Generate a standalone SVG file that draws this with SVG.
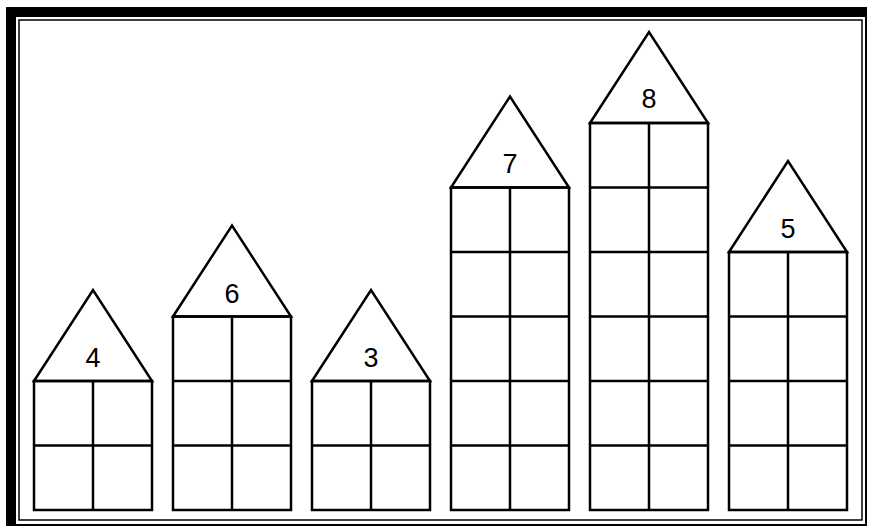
<svg xmlns="http://www.w3.org/2000/svg" width="869" height="529" viewBox="0 0 869 529">
<style>
.ln{fill:none;stroke:#000;stroke-width:2.5;stroke-linejoin:miter}
.rf{fill:#fff;stroke:#000;stroke-width:2.5;stroke-linejoin:miter}
.lbl{font-family:"Liberation Sans",Arial,sans-serif;font-size:27px;fill:#000;text-anchor:middle}
</style>
<rect width="869" height="529" fill="#fff"/>
<g id="frame">
<rect x="7" y="8" width="859" height="517" fill="none" stroke="#000" stroke-width="2"/>
<rect x="6" y="7" width="861" height="10" fill="#000"/>
<rect x="6" y="7" width="10" height="519" fill="#000"/>
<rect x="19" y="20" width="843" height="500" fill="none" stroke="#000" stroke-width="1.5"/>
</g>
<g id="house4">
<path class="rf" d="M34 381 L93 290 L152 381 Z"/>
<rect class="ln" x="34" y="381" width="118" height="129"/>
<path class="ln" d="M93 381 V510 M34 445.5 H152"/>
<text class="lbl" x="93" y="367">4</text>
</g>
<g id="house6">
<path class="rf" d="M173 316.5 L232 225.5 L291 316.5 Z"/>
<rect class="ln" x="173" y="316.5" width="118" height="193.5"/>
<path class="ln" d="M232 316.5 V510 M173 381 H291 M173 445.5 H291"/>
<text class="lbl" x="232" y="303">6</text>
</g>
<g id="house3">
<path class="rf" d="M312 381 L371 290 L430 381 Z"/>
<rect class="ln" x="312" y="381" width="118" height="129"/>
<path class="ln" d="M371 381 V510 M312 445.5 H430"/>
<text class="lbl" x="371" y="367">3</text>
</g>
<g id="house7">
<path class="rf" d="M451 187.5 L510 96.5 L569 187.5 Z"/>
<rect class="ln" x="451" y="187.5" width="118" height="322.5"/>
<path class="ln" d="M510 187.5 V510 M451 252 H569 M451 316.5 H569 M451 381 H569 M451 445.5 H569"/>
<text class="lbl" x="510" y="173">7</text>
</g>
<g id="house8">
<path class="rf" d="M590 123 L649 32 L708 123 Z"/>
<rect class="ln" x="590" y="123" width="118" height="387"/>
<path class="ln" d="M649 123 V510 M590 187.5 H708 M590 252 H708 M590 316.5 H708 M590 381 H708 M590 445.5 H708"/>
<text class="lbl" x="649" y="108">8</text>
</g>
<g id="house5">
<path class="rf" d="M729 252 L788 161 L847 252 Z"/>
<rect class="ln" x="729" y="252" width="118" height="258"/>
<path class="ln" d="M788 252 V510 M729 316.5 H847 M729 381 H847 M729 445.5 H847"/>
<text class="lbl" x="788" y="238">5</text>
</g>
<g id="connectors"></g>
</svg>
